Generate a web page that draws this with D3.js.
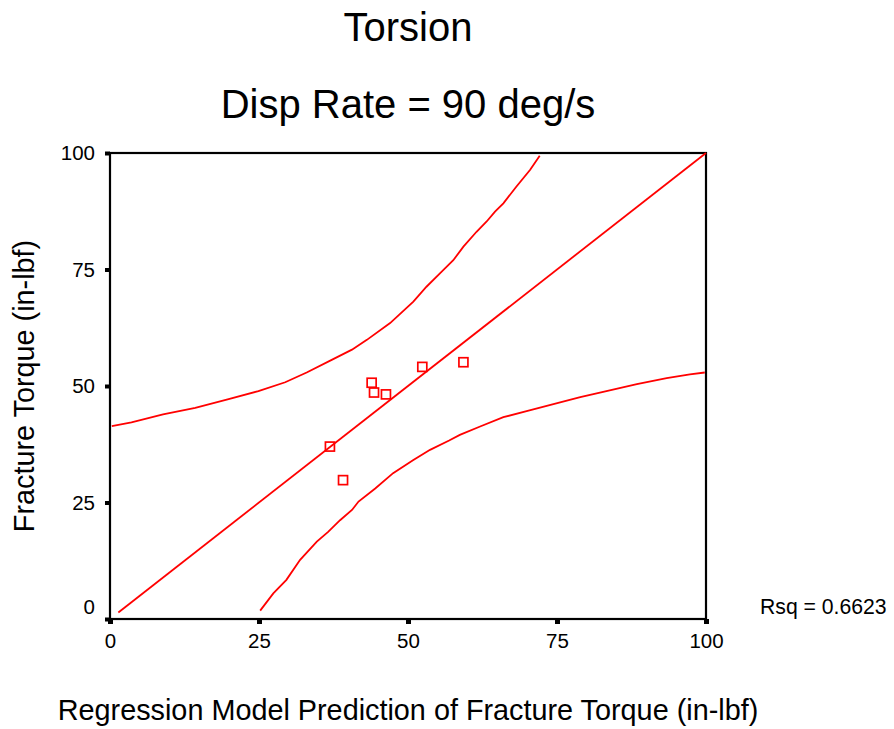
<!DOCTYPE html>
<html>
<head>
<meta charset="utf-8">
<script src="https://cdn.jsdelivr.net/npm/d3@7/dist/d3.min.js"></script>
<style>
  html, body { margin: 0; padding: 0; background: #fff; }
  svg text { font-family: "Liberation Sans", Arial, sans-serif; fill: #000; }
</style>
</head>
<body>
<svg id="chart" width="894" height="729"></svg>
<script>
// ---- data ----
const titleLines = ["Torsion", "Disp Rate = 90 deg/s"];
const xTitle = "Regression Model Prediction of Fracture Torque (in-lbf)";
const yTitle = "Fracture Torque (in-lbf)";
const rsqLabel = "Rsq = 0.6623";

const xTicks = [0, 25, 50, 75, 100];
const yTicks = [0, 25, 50, 75, 100];

// observed points (prediction, actual)
const pointX = [52.4, 59.3, 43.9, 44.3, 46.3, 36.9, 39.1];
const pointY = [54.1, 55.1, 50.7, 48.6, 48.2, 37.0, 29.8];

// fitted line
const fitX = [1.4, 100];
const fitY = [1.4, 100];

// upper prediction band
const upperX = [0.3, 3.6, 8.9, 14.3, 19.9, 24.9, 29.4, 33.0, 37.2, 40.6, 43.1, 47.0, 50.9, 53.1, 55.4, 57.6, 59.3, 61.5, 63.2, 64.6, 66.0, 68.2, 70.5, 72.1];
const upperY = [41.4, 42.2, 43.9, 45.3, 47.2, 48.9, 50.8, 52.9, 55.6, 57.8, 59.9, 63.5, 68.1, 71.3, 74.2, 77.0, 79.9, 83.1, 85.3, 87.4, 89.2, 92.8, 96.4, 99.4];

// lower prediction band
const lowerX = [25.2, 27.4, 29.6, 31.9, 34.7, 36.6, 38.6, 40.6, 41.7, 44.5, 47.5, 50.9, 53.7, 56.9, 58.7, 62.1, 66.0, 69.9, 74.4, 78.9, 82.2, 88.4, 93.4, 97.3, 99.8];
const lowerY = [1.8, 5.5, 8.4, 12.7, 16.6, 18.7, 21.2, 23.4, 25.2, 28.0, 31.3, 34.1, 36.3, 38.3, 39.5, 41.3, 43.3, 44.6, 46.1, 47.6, 48.6, 50.4, 51.7, 52.5, 52.9];

// ---- layout ----
const svg = d3.select("#chart");
const L = 110, R = 706, T = 153, B = 619;
const x = d3.scaleLinear().domain([0, 100]).range([L, R]);
const y = d3.scaleLinear().domain([0, 100]).range([B, T]);
const red = "#ff0000";

// titles
svg.append("text").attr("x", 408).attr("y", 41).attr("text-anchor", "middle")
  .style("font-size", "40px").text(titleLines[0]);
svg.append("text").attr("x", 408).attr("y", 118).attr("text-anchor", "middle")
  .style("font-size", "40px").text(titleLines[1]);

// frame
svg.append("rect").attr("x", L).attr("y", T).attr("width", R - L).attr("height", B - T)
  .attr("fill", "none").attr("stroke", "#000").attr("stroke-width", 2.2);

// y axis
const yAxis = svg.append("g").attr("transform", `translate(${L},0)`)
  .call(d3.axisLeft(y).tickValues(yTicks).tickSize(5).tickPadding(10).tickFormat(d3.format("d")));
yAxis.select(".domain").remove();
yAxis.selectAll(".tick line").attr("stroke", "#000").attr("stroke-width", 4);
yAxis.selectAll(".tick text").style("font-size", "20.5px").attr("fill", "#000");
yAxis.selectAll(".tick").filter(d => d === 0).select("text").attr("dy", "-0.25em");

// x axis
const xAxis = svg.append("g").attr("transform", `translate(0,${B})`)
  .call(d3.axisBottom(x).tickValues(xTicks).tickSize(5).tickPadding(9).tickFormat(d3.format("d")));
xAxis.select(".domain").remove();
xAxis.selectAll(".tick line").attr("stroke", "#000").attr("stroke-width", 5);
xAxis.selectAll(".tick text").style("font-size", "20.5px").attr("fill", "#000");

// axis titles
svg.append("text").attr("x", 408).attr("y", 720).attr("text-anchor", "middle")
  .style("font-size", "28.8px").text(xTitle);
svg.append("text").attr("transform", `translate(34,${(T + B) / 2}) rotate(-90)`)
  .attr("text-anchor", "middle").style("font-size", "28.8px").text(yTitle);

// Rsq
svg.append("text").attr("x", 760).attr("y", 614).style("font-size", "21.2px").text(rsqLabel);

// lines
const line = d3.line().x(d => x(d[0])).y(d => y(d[1]));
const mk = (xs, ys) => xs.map((v, i) => [v, ys[i]]);
[mk(fitX, fitY), mk(upperX, upperY), mk(lowerX, lowerY)].forEach(pts => {
  svg.append("path").datum(pts).attr("d", line)
    .attr("fill", "none").attr("stroke", red).attr("stroke-width", 1.8);
});

// points
svg.append("g").selectAll("rect").data(mk(pointX, pointY)).join("rect")
  .attr("x", d => x(d[0]) - 4.5).attr("y", d => y(d[1]) - 4.5)
  .attr("width", 9).attr("height", 9)
  .attr("fill", "none").attr("stroke", red).attr("stroke-width", 1.7);
</script>
</body>
</html>
